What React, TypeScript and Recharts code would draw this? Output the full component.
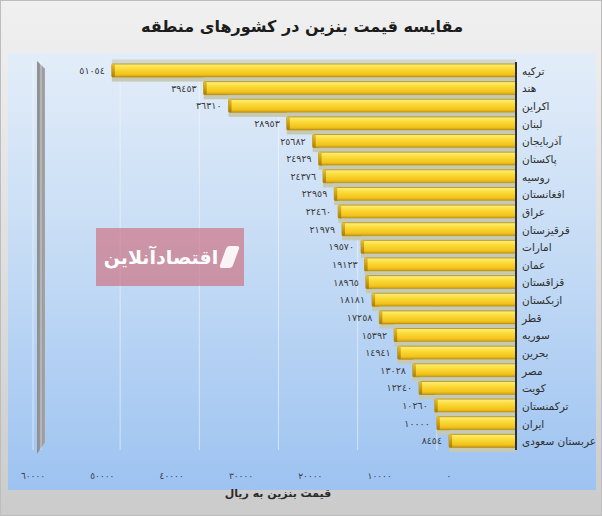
import { BarChart, Bar, XAxis, YAxis, CartesianGrid, LabelList } from "recharts";

const countries = [
  "ترکیه",
  "هند",
  "اکراین",
  "لبنان",
  "آذربایجان",
  "پاکستان",
  "روسیه",
  "افغانستان",
  "عراق",
  "قرقیزستان",
  "امارات",
  "عمان",
  "قزاقستان",
  "ازبکستان",
  "قطر",
  "سوریه",
  "بحرین",
  "مصر",
  "کویت",
  "ترکمنستان",
  "ایران",
  "عربستان سعودی",
];

const prices = [
  51054, 39453, 36310, 28953, 25682, 24929, 24376, 22959, 22460, 21979, 19570,
  19123, 18965, 18181, 17258, 15392, 14941, 13028, 12240, 10260, 10000, 8454,
];

const priceTicks = [0, 10000, 20000, 30000, 40000, 50000, 60000];

const chartData = countries.map((name, i) => ({ name, price: prices[i] }));

const FONT = "'DejaVu Sans', sans-serif";

const toArabicDigits = (n: number) =>
  String(n).replace(/\d/g, (d) => "٠١٢٣٤٥٦٧٨٩"[Number(d)]);

const GoldBar = (props: any) => {
  const { x, y, width, height } = props;
  const left = Math.min(x, x + width);
  const w = Math.abs(width);
  return (
    <g>
      <rect x={left} y={y + height} width={w} height={4.6} fill="#c6cab4" />
      <rect x={left} y={y - 4.6} width={w} height={4.6} fill="#c6cab4" opacity={0.6} />
      <rect x={left} y={y} width={w} height={height} fill="url(#goldGrad)" stroke="#b48c0c" strokeWidth={0.8} rx={1} />
      <rect x={left} y={y} width={3} height={height} fill="url(#capGrad)" />
    </g>
  );
};

const ValueLabel = (props: any) => {
  const { x, y, width, height, value } = props;
  const left = Math.min(x, x + width);
  return (
    <text
      x={left - 7}
      y={y + height / 2}
      textAnchor="end"
      dominantBaseline="central"
      fontSize={9.5}
      fill="#3a3a3a"
      fontFamily={FONT}
    >
      {toArabicDigits(value)}
    </text>
  );
};

const CountryTick = (props: any) => {
  const { x, y, payload } = props;
  return (
    <text x={x - 2} y={y} textAnchor="start" dominantBaseline="central" fontSize={10.5} fill="#2e2e2e" fontFamily={FONT}>
      {payload.value}
    </text>
  );
};

const PriceTick = (props: any) => {
  const { x, y, payload } = props;
  return (
    <text x={x} y={y + 27} textAnchor="middle" fontSize={9} fill="#3c3c4a" fontFamily={FONT} letterSpacing={1}>
      {toArabicDigits(payload.value)}
    </text>
  );
};

const App = () => {
  return (
    <div
      style={{
        position: "absolute",
        left: 0,
        top: 0,
        width: 602,
        height: 516,
        overflow: "hidden",
        background: "linear-gradient(180deg, #f0f0f0 0%, #dcdcdc 60%, #cbcbcb 100%)",
        boxSizing: "border-box",
        border: "1px solid #bdbdbd",
        fontFamily: FONT,
      }}
    >
      <div
        style={{
          position: "absolute",
          left: 0,
          top: 16,
          width: 602,
          textAlign: "center",
          fontSize: 16,
          fontWeight: "bold",
          color: "#1c1c1c",
          direction: "rtl",
        }}
      >
        مقایسه قیمت بنزین در کشورهای منطقه
      </div>

      <div
        style={{
          position: "absolute",
          left: 7,
          top: 52,
          width: 588,
          height: 437,
          background: "linear-gradient(180deg, #e3edf9 0%, #c6dcf5 45%, #9dc3f1 100%)",
        }}
      />

      <div
        style={{
          position: "absolute",
          left: 36,
          top: 60,
          width: 8,
          height: 393,
          background: "linear-gradient(90deg, #8e8e8e 0%, #a4a4a4 100%)",
          clipPath: "polygon(0 0, 100% 2%, 100% 97%, 0 100%)",
        }}
      />

      <div style={{ position: "absolute", left: 0, top: 0 }}>
        <BarChart
          width={602}
          height={516}
          data={chartData}
          layout="vertical"
          margin={{ top: 61, right: 7, bottom: 37, left: 32 }}
          barCategoryGap={0}
        >
          <defs>
            <linearGradient id="goldGrad" x1="0" y1="0" x2="0" y2="1">
              <stop offset="0%" stopColor="#fff07c" />
              <stop offset="35%" stopColor="#fbdc3a" />
              <stop offset="80%" stopColor="#f3c21c" />
              <stop offset="100%" stopColor="#c99a0e" />
            </linearGradient>
            <linearGradient id="capGrad" x1="0" y1="0" x2="0" y2="1">
              <stop offset="0%" stopColor="#e9bd28" />
              <stop offset="100%" stopColor="#a97e06" />
            </linearGradient>
          </defs>
          <CartesianGrid xAxisId="main" horizontal={false} stroke="#f4f8fd" strokeOpacity={0.6} />
          <XAxis
            xAxisId="main"
            type="number"
            domain={[0, 60000]}
            ticks={priceTicks}
            reversed
            padding={{ left: 8, right: 0 }}
            hide
          />
          <XAxis
            xAxisId="front"
            type="number"
            domain={[0, 60000]}
            allowDataOverflow
            ticks={priceTicks}
            reversed
            padding={{ left: 0, right: 67 }}
            axisLine={false}
            tickLine={false}
            tickSize={0}
            height={30}
            tick={<PriceTick />}
            interval={0}
          />
          <YAxis
            type="category"
            dataKey="name"
            orientation="right"
            width={80}
            axisLine={{ stroke: "#2f2f2f", strokeWidth: 2 }}
            tickLine={false}
            tick={<CountryTick />}
            interval={0}
          />
          <Bar
            xAxisId="main"
            dataKey="price"
            barSize={13}
            shape={<GoldBar />}
            isAnimationActive={false}
          >
            <LabelList dataKey="price" content={<ValueLabel />} />
          </Bar>
        </BarChart>
      </div>

      <div
        style={{
          position: "absolute",
          left: 0,
          top: 486,
          width: 554,
          textAlign: "center",
          fontSize: 11,
          fontWeight: "bold",
          color: "#2a2a2a",
          direction: "rtl",
        }}
      >
        قیمت بنزین به ریال
      </div>

      <div
        style={{
          position: "absolute",
          left: 95,
          top: 227,
          width: 148,
          height: 58,
          background: "rgba(206, 104, 118, 0.62)",
          display: "flex",
          alignItems: "center",
          justifyContent: "center",
          gap: 5,
        }}
      >
        <span style={{ color: "#fff", fontSize: 19, fontWeight: "bold", direction: "rtl", letterSpacing: -0.5 }}>
          اقتصادآنلاین
        </span>
        <span
          style={{
            width: 13,
            height: 22,
            background: "#fff",
            transform: "skewX(-20deg)",
            borderRadius: 3,
            opacity: 0.9,
          }}
        />
      </div>
    </div>
  );
};

export default App;
